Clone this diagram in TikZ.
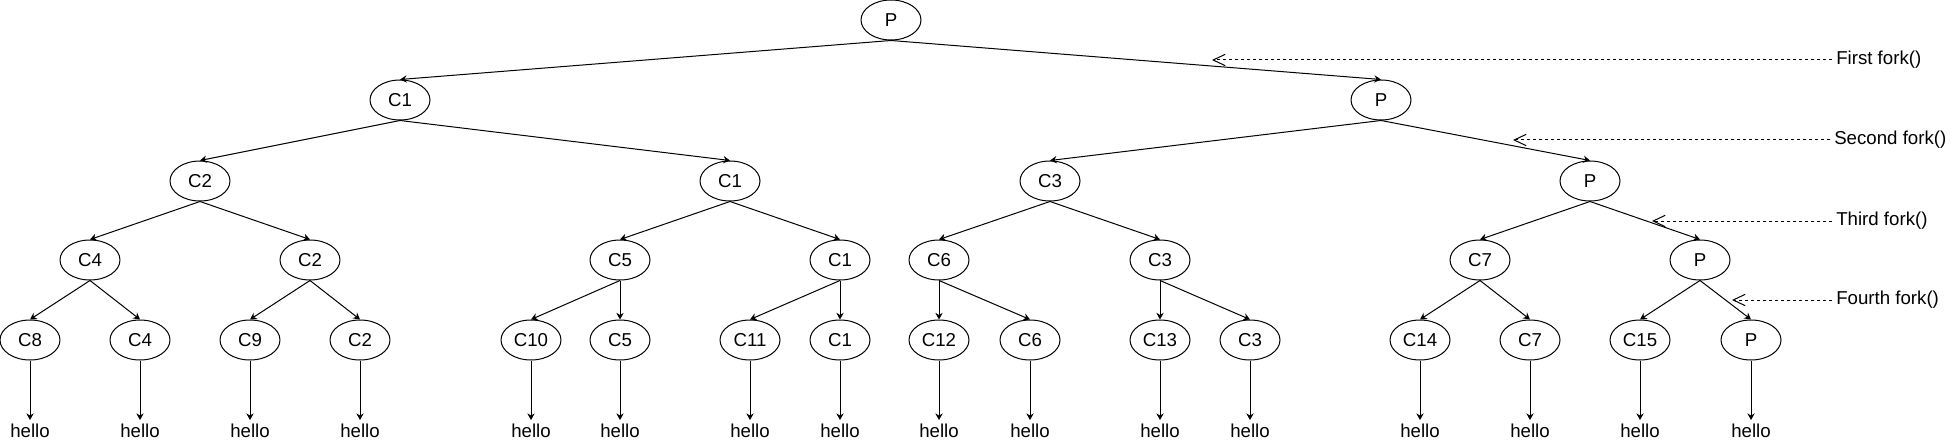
\documentclass[tikz,border=0pt]{standalone}
\usepackage{fontspec}
\setmainfont{Liberation Sans}
\usetikzlibrary{arrows.meta,shapes.geometric}

\begin{document}
\begin{tikzpicture}[x=0.75pt,y=-0.75pt,line cap=butt,line join=round,
    proc/.style={draw,ellipse,line width=0.75pt,minimum width=45pt,minimum height=30pt,
      inner sep=0pt,font=\fontsize{14}{16}\selectfont},
    edge/.style={line width=0.75pt,-{Stealth[length=5pt,width=5.5pt]}},
    note/.style={line width=0.75pt,dash pattern=on 2.25pt off 2.25pt,
      -{Straight Barb[length=9pt,width=8.5pt,line width=0.75pt]}},
    txt/.style={inner sep=2.5pt,font=\fontsize{14}{16}\selectfont},
    lbl/.style={inner sep=3pt,anchor=west,font=\fontsize{14}{16}\selectfont}]
        \useasboundingbox (0,0) rectangle (1952,442);

        % Nivel 0 y 1
        \node[proc] (n0) at (891,20) {P};
        \node[proc] (n1a) at (400,100) {C1};
        \node[proc] (n1b) at (1381,100) {P};

        % Nivel 2
        \node[proc] (n2a) at (200,181) {C2};
        \node[proc] (n2b) at (730,181) {C1};
        \node[proc] (n2c) at (1050,181) {C3};
        \node[proc] (n2d) at (1590,181) {P};

        % Nivel 3
        \node[proc] (n3a) at (90,260) {C4};
        \node[proc] (n3b) at (310,260) {C2};
        \node[proc] (n3c) at (620,260) {C5};
        \node[proc] (n3d) at (840,260) {C1};
        \node[proc] (n3e) at (939,260) {C6};
        \node[proc] (n3f) at (1160,260) {C3};
        \node[proc] (n3g) at (1480,260) {C7};
        \node[proc] (n3h) at (1700,260) {P};

        % Nivel 4
        \node[proc] (n4a) at (30,340) {C8};
        \node[proc] (n4b) at (140,340) {C4};
        \node[proc] (n4c) at (250,340) {C9};
        \node[proc] (n4d) at (360,340) {C2};
        \node[proc] (n4e) at (531,340) {C10};
        \node[proc] (n4f) at (620,340) {C5};
        \node[proc] (n4g) at (750,340) {C11};
        \node[proc] (n4h) at (840,340) {C1};
        \node[proc] (n4i) at (939,340) {C12};
        \node[proc] (n4j) at (1030,340) {C6};
        \node[proc] (n4k) at (1160,340) {C13};
        \node[proc] (n4l) at (1250,340) {C3};
        \node[proc] (n4m) at (1420,340) {C14};
        \node[proc] (n4n) at (1530,340) {C7};
        \node[proc] (n4o) at (1640,340) {C15};
        \node[proc] (n4p) at (1751,340) {P};

        % Aristas del arbol
        \foreach \p/\c in {n0/n1a,n0/n1b,n1a/n2a,n1a/n2b,n1b/n2c,n1b/n2d,
            n2a/n3a,n2a/n3b,n2b/n3c,n2b/n3d,n2c/n3e,n2c/n3f,n2d/n3g,n2d/n3h,
            n3a/n4a,n3a/n4b,n3b/n4c,n3b/n4d,n3c/n4e,n3c/n4f,n3d/n4g,n3d/n4h,
            n3e/n4i,n3e/n4j,n3f/n4k,n3f/n4l,n3g/n4m,n3g/n4n,n3h/n4o,n3h/n4p}
            \draw[edge] (\p.south) -- (\c.north);

        % Salidas
        \foreach \i in {a,...,p} {
            \node[txt] (h\i) at (n4\i |- 0,430.5) {hello};
            \draw[edge] (n4\i.south) -- (h\i.north);
        }

        % Llamadas a fork
        \coordinate (f1) at (1212,60);
        \coordinate (f2) at (1513,140);
        \coordinate (f3) at (1652,221);
        \coordinate (f4) at (1732,300);
        \node[lbl] (l1) at (1832,60) {First fork()};
        \node[lbl] (l2) at (1830,140) {Second fork()};
        \node[lbl] (l3) at (1832,221) {Third fork()};
        \node[lbl] (l4) at (1832,300) {Fourth fork()};
        \draw[note] (l1.west) -- (f1);
        \draw[note] (l2.west) -- (f2);
        \draw[note] (l3.west) -- (f3);
        \draw[note] (l4.west) -- (f4);
    \end{tikzpicture}
\end{document}
